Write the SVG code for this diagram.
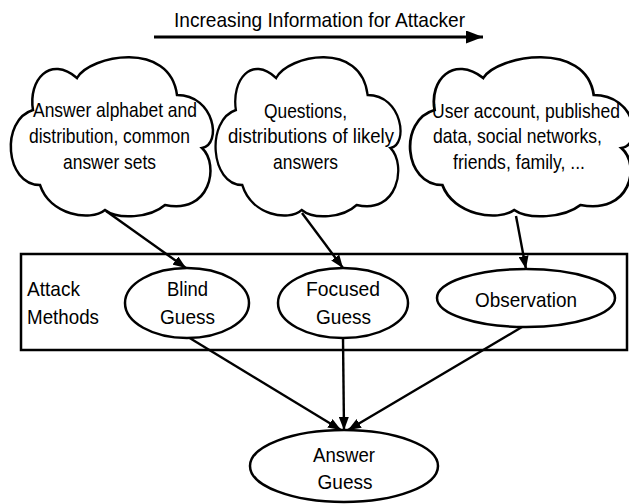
<svg xmlns="http://www.w3.org/2000/svg" xmlns:xlink="http://www.w3.org/1999/xlink" width="629" height="504" viewBox="0 0 629 504">
<style>
text{font-family:"Liberation Sans",Arial,sans-serif;font-size:21px;fill:#000}
.c{text-anchor:middle}
.shape{fill:#fff;stroke:#000;stroke-width:2.5}
.cloud{fill:#fff;stroke:#000;stroke-width:2.5;vector-effect:non-scaling-stroke}
.edge{fill:none;stroke:#000;stroke-width:2.4;marker-end:url(#ah)}
</style>
<defs>
<marker id="ah" markerUnits="userSpaceOnUse" markerWidth="14" markerHeight="10" refX="13" refY="5" orient="auto">
<path d="M0,0 L13,5 L0,10 z" fill="#000"/>
</marker>
<marker id="ahBig" markerUnits="userSpaceOnUse" markerWidth="18" markerHeight="13" refX="17" refY="6.5" orient="auto">
<path d="M0,0 L17,6.5 L0,13 z" fill="#000"/>
</marker>
<path id="cloudShape" d="M25,110 C20,80 42,55 69,78 C82,55 162,40 169,95 C207,95 214,145 194,148 C212,165 202,215 157,205 C142,218 110,220 97,210 C82,222 42,215 32,185 C-3,185 -8,120 25,110 Z"/>
</defs>

<g id="title">
<text x="319.5" y="27" class="c" textLength="291" lengthAdjust="spacingAndGlyphs">Increasing Information for Attacker</text>
<line x1="154" y1="37" x2="483" y2="37" stroke="#000" stroke-width="3" marker-end="url(#ahBig)"/>
</g>

<g id="cloud1">
<use xlink:href="#cloudShape" class="cloud" transform="translate(8,0)"/>
<text x="115" y="117" class="c" textLength="164" lengthAdjust="spacingAndGlyphs">Answer alphabet and</text>
<text x="109.5" y="143" class="c" textLength="161" lengthAdjust="spacingAndGlyphs">distribution, common</text>
<text x="109.5" y="169" class="c" textLength="93" lengthAdjust="spacingAndGlyphs">answer sets</text>
</g>

<g id="cloud2">
<use xlink:href="#cloudShape" class="cloud" transform="translate(213,0) scale(0.915,1)"/>
<text x="305.5" y="118" class="c" textLength="83" lengthAdjust="spacingAndGlyphs">Questions,</text>
<text x="311" y="143" class="c" textLength="166" lengthAdjust="spacingAndGlyphs">distributions of likely</text>
<text x="305.5" y="169" class="c" textLength="65" lengthAdjust="spacingAndGlyphs">answers</text>
</g>

<g id="cloud3">
<use xlink:href="#cloudShape" class="cloud" transform="translate(407,0) scale(1.105,1)"/>
<text x="526" y="118" class="c" textLength="188" lengthAdjust="spacingAndGlyphs">User account, published</text>
<text x="517.5" y="143" class="c" textLength="169" lengthAdjust="spacingAndGlyphs">data, social networks,</text>
<text x="519" y="169" class="c" textLength="132" lengthAdjust="spacingAndGlyphs">friends, family, ...</text>
</g>

<g id="attack-methods">
<rect x="21" y="254" width="606" height="96" class="shape"/>
<text x="27" y="296" textLength="53" lengthAdjust="spacingAndGlyphs">Attack</text>
<text x="27" y="324" textLength="72" lengthAdjust="spacingAndGlyphs">Methods</text>
</g>

<g id="connectors">
<line x1="106" y1="211" x2="186" y2="268" class="edge"/>
<line x1="302" y1="213" x2="343" y2="268" class="edge"/>
<line x1="516" y1="216" x2="526" y2="269" class="edge"/>
<line x1="188" y1="337" x2="341" y2="430" class="edge"/>
<line x1="343" y1="338" x2="344" y2="430" class="edge"/>
<line x1="522" y1="327" x2="348" y2="430" class="edge"/>
</g>

<g id="blind-guess">
<ellipse cx="187" cy="303" rx="62" ry="35" class="shape"/>
<text x="187.5" y="296" class="c" textLength="41" lengthAdjust="spacingAndGlyphs">Blind</text>
<text x="187.5" y="324" class="c" textLength="55" lengthAdjust="spacingAndGlyphs">Guess</text>
</g>

<g id="focused-guess">
<ellipse cx="343" cy="303" rx="65" ry="35" class="shape"/>
<text x="343" y="296" class="c" textLength="74" lengthAdjust="spacingAndGlyphs">Focused</text>
<text x="343.5" y="324" class="c" textLength="55" lengthAdjust="spacingAndGlyphs">Guess</text>
</g>

<g id="observation">
<ellipse cx="526" cy="298" rx="89" ry="29" class="shape"/>
<text x="526" y="307" class="c" textLength="102" lengthAdjust="spacingAndGlyphs">Observation</text>
</g>

<g id="answer-guess">
<ellipse cx="344" cy="466" rx="94" ry="36" class="shape"/>
<text x="344" y="462" class="c" textLength="62" lengthAdjust="spacingAndGlyphs">Answer</text>
<text x="345" y="489" class="c" textLength="55" lengthAdjust="spacingAndGlyphs">Guess</text>
</g>
</svg>
